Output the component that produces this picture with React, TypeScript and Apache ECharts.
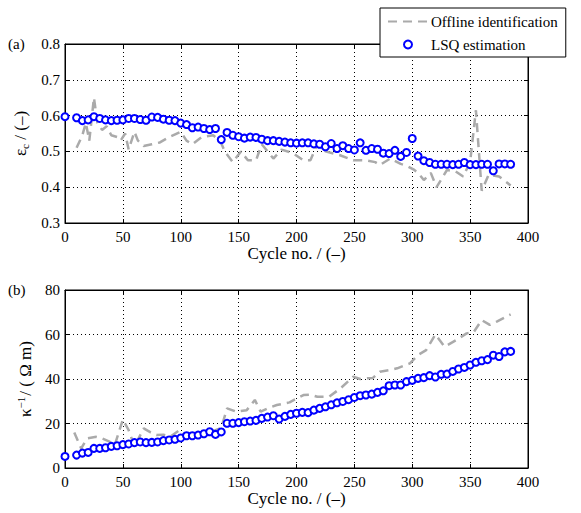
import React, { useEffect, useRef } from 'react';
import * as echarts from 'echarts';

// ---- data ----
const cycles = [0, 10, 15, 20, 25, 30, 35, 40, 45, 50, 55, 60, 65, 70, 75, 80, 85, 90, 95, 100,
  105, 110, 115, 120, 125, 130, 135, 140, 145, 150, 155, 160, 165, 170, 175, 180, 185, 190, 195, 200,
  205, 210, 215, 220, 225, 230, 235, 240, 245, 250, 255, 260, 265, 270, 275, 280, 285, 290, 295, 300,
  305, 310, 315, 320, 325, 330, 335, 340, 345, 350, 355, 360, 365, 370, 375, 380, 385];

const lsqEps = [0.597, 0.594, 0.586, 0.588, 0.597, 0.592, 0.588, 0.586, 0.587, 0.588,
  0.592, 0.592, 0.589, 0.587, 0.596, 0.595, 0.590, 0.587, 0.586, 0.579,
  0.575, 0.566, 0.568, 0.564, 0.561, 0.564, 0.533, 0.553, 0.545, 0.541,
  0.537, 0.540, 0.539, 0.534, 0.530, 0.530, 0.528, 0.526, 0.524, 0.523,
  0.524, 0.524, 0.521, 0.520, 0.513, 0.522, 0.508, 0.516, 0.508, 0.504,
  0.524, 0.503, 0.508, 0.506, 0.495, 0.494, 0.503, 0.486, 0.497, 0.536,
  0.487, 0.474, 0.469, 0.464, 0.464, 0.464, 0.463, 0.464, 0.469, 0.463,
  0.463, 0.464, 0.464, 0.446, 0.465, 0.465, 0.464];

const lsqKappa = [5.2, 5.8, 6.7, 7.0, 8.8, 8.8, 9.1, 9.7, 10.0, 10.5,
  10.8, 11.4, 11.7, 11.4, 11.5, 11.7, 12.3, 12.6, 12.9, 13.5,
  14.5, 14.5, 14.8, 15.4, 16.3, 15.1, 16.2, 20.1, 20.1, 20.4,
  20.8, 21.1, 21.4, 22.3, 22.9, 23.5, 22.0, 23.2, 24.1, 24.6,
  25.0, 24.9, 26.0, 26.8, 27.5, 28.4, 29.3, 29.9, 30.7, 31.7,
  32.5, 32.8, 33.2, 34.0, 34.7, 37.0, 37.3, 37.3, 38.8, 39.4,
  40.3, 40.6, 41.5, 40.9, 42.1, 42.2, 43.4, 44.5, 45.2, 46.3,
  47.5, 48.2, 48.7, 50.7, 50.1, 52.2, 52.4];

const offEpsX = [10, 15, 18, 21, 25, 28, 32, 36, 40, 45, 48, 52, 55, 60, 63, 68, 75, 82, 90, 100,
  105, 110, 118, 128, 134, 138, 145, 152, 158, 165, 170, 180, 187, 197, 206, 212, 218, 225, 237, 249,
  260, 268, 272, 281, 290, 295, 301, 305, 310, 316, 321, 330, 337, 344, 350, 355, 360, 366, 375, 385];
const offEpsY = [0.51, 0.545, 0.58, 0.53, 0.65, 0.58, 0.56, 0.57, 0.545, 0.54, 0.53, 0.55, 0.505, 0.555, 0.53, 0.515, 0.52, 0.525, 0.54, 0.555,
  0.53, 0.52, 0.54, 0.545, 0.53, 0.5, 0.47, 0.5, 0.475, 0.475, 0.52, 0.48, 0.505, 0.495, 0.475, 0.475, 0.52, 0.5, 0.49, 0.475,
  0.475, 0.47, 0.462, 0.48, 0.465, 0.46, 0.45, 0.44, 0.42, 0.44, 0.40, 0.448, 0.445, 0.43, 0.47, 0.615, 0.39, 0.435, 0.43, 0.405];

const offKapX = [8, 14, 19, 27, 32, 38, 43, 50, 55, 60, 68, 74, 79, 85, 91, 99, 104, 112, 118, 124,
  130, 135, 140, 148, 157, 164, 169, 176, 183, 194, 206, 212, 218, 228, 238, 249, 255, 261, 266, 272,
  280, 287, 298, 305, 312, 320, 328, 338, 347, 353, 360, 367, 373, 385];
const offKapY = [16, 8.8, 13.3, 14, 13.3, 12, 10.3, 21.8, 17, 9.6, 17.8, 16, 14.8, 15, 14.1, 17, 14.8, 15, 15, 15.6,
  17, 18, 26.8, 25.3, 26, 30.6, 25.3, 27, 28.3, 29.5, 32.8, 33, 32, 32, 35.8, 41, 40, 40.3, 40.5, 43.3,
  44, 44.8, 47, 50.8, 53, 60, 54.5, 57.5, 60.5, 61, 66.5, 64.3, 65.8, 69];

const xTicks = { min: 0, max: 400, interval: 50 };
const epsTicks = { min: 0.3, max: 0.8, interval: 0.1 };
const kapTicks = { min: 0, max: 80, interval: 20 };

const FONT = '"Liberation Serif", "Times New Roman", serif';
const BLUE = '#0000ff';
const GRAY = '#aaaaaa';
const DASH = [9, 6];

function pair(xs: number[], ys: number[]) {
  return xs.map((x, i) => [x, ys[i]]);
}

const tickStyle = { show: true, inside: true, length: 4, lineStyle: { color: '#000' } };
const lineAxis = { show: true, onZero: false, lineStyle: { color: '#000', width: 1 } };
const gridLine = { show: true, lineStyle: { color: '#000', type: [1, 3], width: 1 } };
const labelStyle = { color: '#000', fontFamily: FONT, fontSize: 15 };

function mainX(grid: number) {
  return {
    gridIndex: grid, type: 'value', ...xTicks, position: 'bottom',
    axisLine: lineAxis, axisTick: tickStyle,
    axisLabel: { ...labelStyle, margin: 6 },
    splitLine: gridLine,
    name: 'Cycle no. / (–)', nameLocation: 'middle', nameGap: 22,
    nameTextStyle: { color: '#000', fontFamily: FONT, fontSize: 17 },
  };
}
function mirrorX(grid: number) {
  return {
    gridIndex: grid, type: 'value', ...xTicks, position: 'top',
    axisLine: lineAxis, axisTick: tickStyle,
    axisLabel: { show: false }, splitLine: { show: false },
  };
}
function mirrorY(grid: number, t: any) {
  return {
    gridIndex: grid, type: 'value', ...t, position: 'right',
    axisLine: lineAxis, axisTick: tickStyle,
    axisLabel: { show: false }, splitLine: { show: false },
  };
}

export default function App() {
  const ref = useRef<HTMLDivElement>(null);
  useEffect(() => {
    document.body.style.margin = '0';
    const chart = echarts.init(ref.current!, null, { renderer: 'svg' });
    const option: any = {
      animation: false,
      backgroundColor: '#fff',
      textStyle: { fontFamily: FONT },
      grid: [
        { left: 65, top: 44, width: 463, height: 179, show: true, borderColor: '#000', borderWidth: 1 },
        { left: 65, top: 290, width: 463, height: 178, show: true, borderColor: '#000', borderWidth: 1 },
      ],
      xAxis: [mainX(0), mirrorX(0), mainX(1), mirrorX(1)],
      yAxis: [
        {
          gridIndex: 0, type: 'value', ...epsTicks, position: 'left',
          axisLine: lineAxis, axisTick: tickStyle,
          axisLabel: { ...labelStyle, margin: 5, formatter: (v: number) => v.toFixed(1) },
          splitLine: gridLine,
          name: '{a|ε}{s|c}{a| / (–)}', nameLocation: 'middle', nameGap: 30, nameRotate: 90,
          nameTextStyle: {
            color: '#000', fontFamily: FONT, fontSize: 17,
            rich: {
              a: { fontFamily: FONT, fontSize: 17, color: '#000', lineHeight: 20, verticalAlign: 'middle' },
              s: { fontFamily: FONT, fontSize: 11, color: '#000', lineHeight: 20, verticalAlign: 'bottom', padding: [8, 0, 0, 0] },
            },
          },
        },
        mirrorY(0, epsTicks),
        {
          gridIndex: 1, type: 'value', ...kapTicks, position: 'left',
          axisLine: lineAxis, axisTick: tickStyle,
          axisLabel: { ...labelStyle, margin: 5 },
          splitLine: gridLine,
          name: '{a|κ}{p|−1}{a|/ ( Ω m)}', nameLocation: 'middle', nameGap: 30, nameRotate: 90,
          nameTextStyle: {
            color: '#000', fontFamily: FONT, fontSize: 17,
            rich: {
              a: { fontFamily: FONT, fontSize: 17, color: '#000', lineHeight: 20, verticalAlign: 'middle' },
              p: { fontFamily: FONT, fontSize: 11, color: '#000', lineHeight: 20, verticalAlign: 'top', padding: [0, 1, 8, 0] },
            },
          },
        },
        mirrorY(1, kapTicks),
      ],
      legend: {
        orient: 'vertical', left: 380, top: 8,
        backgroundColor: '#fff', borderColor: '#000', borderWidth: 1, borderRadius: 0,
        padding: [6, 8, 5, 7], itemGap: 8, itemWidth: 40, itemHeight: 8,
        textStyle: { fontFamily: FONT, fontSize: 15, color: '#000', padding: [0, 0, 0, -2] },
        data: [
          { name: 'Offline identification', itemStyle: { opacity: 0 } },
          { name: 'LSQ estimation' },
        ],
      },
      graphic: [
        { type: 'text', left: 8, top: 36, style: { text: '(a)', fontFamily: FONT, fontSize: 15, fill: '#000' } },
        { type: 'text', left: 8, top: 282, style: { text: '(b)', fontFamily: FONT, fontSize: 15, fill: '#000' } },
      ],
      series: [
        {
          name: 'Offline identification', type: 'line', xAxisIndex: 0, yAxisIndex: 0,
          data: pair(offEpsX, offEpsY), symbol: 'none', z: 2,
          lineStyle: { color: GRAY, width: 2.5, type: DASH }, itemStyle: { color: GRAY },
        },
        {
          name: 'LSQ estimation', type: 'scatter', xAxisIndex: 0, yAxisIndex: 0,
          data: pair(cycles, lsqEps), symbol: 'emptyCircle', symbolSize: 7, z: 3,
          itemStyle: { color: BLUE, borderColor: BLUE, borderWidth: 2.6, opacity: 1 },
        },
        {
          name: 'Offline identification', type: 'line', xAxisIndex: 2, yAxisIndex: 2,
          data: pair(offKapX, offKapY), symbol: 'none', z: 2,
          lineStyle: { color: GRAY, width: 2.5, type: DASH }, itemStyle: { color: GRAY },
        },
        {
          name: 'LSQ estimation', type: 'scatter', xAxisIndex: 2, yAxisIndex: 2,
          data: pair(cycles, lsqKappa), symbol: 'emptyCircle', symbolSize: 7, z: 3,
          itemStyle: { color: BLUE, borderColor: BLUE, borderWidth: 2.6, opacity: 1 },
        },
      ],
    };
    chart.setOption(option);
    return () => chart.dispose();
  }, []);
  return <div ref={ref} style={{ width: 581, height: 513, position: 'absolute', left: 0, top: 0, background: '#fff' }} />;
}
